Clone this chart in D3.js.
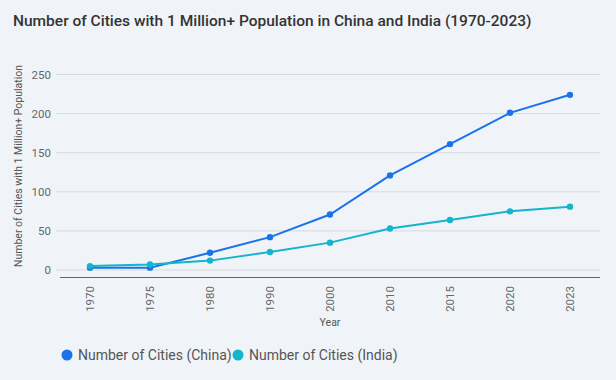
<!DOCTYPE html>
<html>
<head>
<meta charset="UTF-8" />
<title>Cities with 1 Million+ Population</title>
<script src="https://cdn.jsdelivr.net/npm/d3@7"></script>
<style>
  body { margin: 0; background: #f0f4f9; }
  svg { display: block; font-family: Roboto, "Noto Sans", sans-serif; }
</style>
</head>
<body>
<script>
var years = ["1970", "1975", "1980", "1990", "2000", "2010", "2015", "2020", "2023"];
var china = [3, 3, 22, 42, 71, 121, 161, 201, 224];
var india = [5, 7, 12, 23, 35, 53, 64, 75, 81];
var yTicks = [0, 50, 100, 150, 200, 250];
var seriesNames = ["Number of Cities (China)", "Number of Cities (India)"];
var colors = ["#1a73e8", "#12b5cb"];

var W = 616, H = 380;
var svg = d3.select("body").append("svg").attr("width", W).attr("height", H);

svg.append("rect").attr("width", W).attr("height", H).attr("fill", "#f0f4f9");

svg.append("text")
  .attr("x", 13).attr("y", 26)
  .attr("font-size", 15.5).attr("font-weight", 500).attr("fill", "#333")
  .text("Number of Cities with 1 Million+ Population in China and India (1970-2023)");

var x = d3.scalePoint().domain(years).range([60, 600]).padding(0.5);
var y = d3.scaleLinear().domain([0, 250]).range([270, 74.5]);

// grid + y labels
var gy = svg.append("g");
gy.selectAll("line").data(yTicks).enter().append("line")
  .attr("x1", 56).attr("x2", 600)
  .attr("y1", function(d) { return y(d); }).attr("y2", function(d) { return y(d); })
  .attr("stroke", "#d6dae0").attr("stroke-width", 1);
gy.selectAll("text").data(yTicks).enter().append("text")
  .attr("x", 51).attr("y", function(d) { return y(d); })
  .attr("dy", "0.35em").attr("text-anchor", "end")
  .attr("font-size", 11.5).attr("fill", "#666")
  .text(function(d) { return d; });

// x axis
svg.append("line").attr("x1", 60).attr("x2", 600).attr("y1", 277.5).attr("y2", 277.5)
  .attr("stroke", "#666").attr("stroke-width", 1);
svg.append("g").selectAll("text").data(years).enter().append("text")
  .attr("transform", function(d) { return "translate(" + (x(d) + 4) + ",286) rotate(-90)"; })
  .attr("text-anchor", "end")
  .attr("font-size", 11.5).attr("fill", "#666")
  .text(function(d) { return d; });

svg.append("text").attr("x", 330).attr("y", 326).attr("text-anchor", "middle")
  .attr("font-size", 10.5).attr("fill", "#555").text("Year");

svg.append("text")
  .attr("transform", "translate(22,166) rotate(-90)")
  .attr("text-anchor", "middle")
  .attr("font-size", 10.5).attr("fill", "#555")
  .text("Number of Cities with 1 Million+ Population");

// lines
var line = d3.line()
  .x(function(d, i) { return x(years[i]); })
  .y(function(d) { return y(d); });

[china, india].forEach(function(s, k) {
  svg.append("path").datum(s)
    .attr("d", line).attr("fill", "none")
    .attr("stroke", colors[k]).attr("stroke-width", 2);
  svg.append("g").selectAll("circle").data(s).enter().append("circle")
    .attr("cx", function(d, i) { return x(years[i]); })
    .attr("cy", function(d) { return y(d); })
    .attr("r", 3.2).attr("fill", colors[k]);
});

// legend
var lx = [67, 238];
seriesNames.forEach(function(n, k) {
  svg.append("circle").attr("cx", lx[k]).attr("cy", 355).attr("r", 5.5).attr("fill", colors[k]);
  svg.append("text").attr("x", lx[k] + 11).attr("y", 355).attr("dy", "0.35em")
    .attr("font-size", 14).attr("fill", "#555").text(n);
});
</script>
</body>
</html>
